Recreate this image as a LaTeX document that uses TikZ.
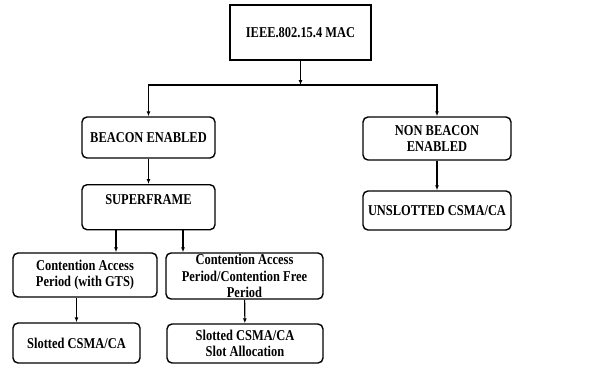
\documentclass[tikz,border=0pt]{standalone}
\usepackage{fontspec}
\setmainfont[FakeStretch=0.83]{Liberation Serif}
\usetikzlibrary{arrows.meta}
\tikzset{
  blk/.style={draw,line width=1.4pt,rounded corners=5pt},
}
\begin{document}
\begin{tikzpicture}[x=1pt,y=-1pt,line width=1.1pt,>={Latex[length=5pt,width=4pt]},
  every node/.style={font=\fontsize{15}{16.3}\selectfont\bfseries,align=center,inner xsep=2pt,inner ysep=0pt}]
\useasboundingbox (0,0) rectangle (594,367);
\node[blk,sharp corners,minimum width=141,minimum height=55] (mac) at (300.5,32.5) {IEEE.802.15.4 MAC};
\node[blk,minimum width=133,minimum height=41] (beacon) at (148.5,137.5) {BEACON ENABLED};
\node[blk,minimum width=148,minimum height=43] (nonbeacon) at (437,138.5) {NON BEACON\\ENABLED};
\node[blk,minimum width=133,text height=20pt,text depth=25pt,anchor=north] (superframe) at (148.5,184) {SUPERFRAME};
\node[blk,minimum width=148,minimum height=39] (unslotted) at (437,210.5) {UNSLOTTED CSMA/CA};
\node[blk,minimum width=144,minimum height=44] (cap) at (85,275) {Contention Access\\Period (with GTS)};
\node[blk,minimum width=157,minimum height=46] (capcfp) at (244.5,276) {Contention Access\\Period/Contention Free\\Period};
\node[blk,minimum width=127,minimum height=40] (slotted) at (76.5,343) {Slotted CSMA/CA};
\node[blk,minimum width=156,minimum height=39] (slotalloc) at (245,343.5) {Slotted CSMA/CA\\Slot Allocation};
% branches
\coordinate (split) at (300.5,85);
\coordinate (leftdrop) at (116,0);
\coordinate (rightdrop) at (183,0);
\draw[->] (mac) -- (split);
\draw[->] (split) -| (beacon);
\draw[->] (split) -| (nonbeacon);
\draw[->] (beacon) -- (superframe);
\draw[->] (nonbeacon) -- (unslotted);
\draw[->] (superframe.south -| leftdrop) -- (cap.north -| leftdrop);
\draw[->] (superframe.south -| rightdrop) -- (capcfp.north -| rightdrop);
\draw[->] (cap.south -| slotted) -- (slotted);
\draw[->] (capcfp) -- (slotalloc);
\end{tikzpicture}
\end{document}
